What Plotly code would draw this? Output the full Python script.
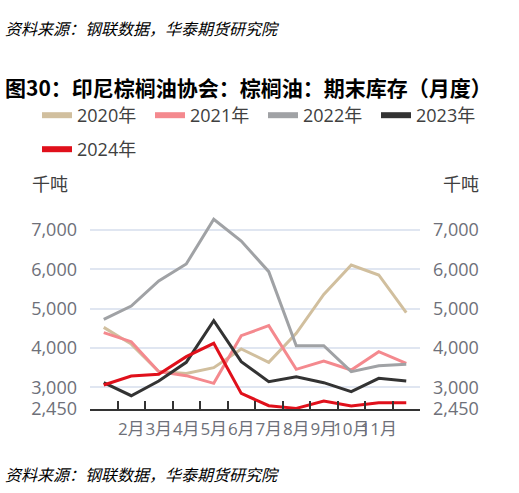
import plotly.graph_objects as go

months = list(range(1, 13))
month_labels = ["1月", "2月", "3月", "4月", "5月", "6月", "7月", "8月", "9月", "10月", "11月", "12月"]
shown_months = months[1:11]

series_names = ["2020年", "2021年", "2022年", "2023年", "2024年"]
v2020 = [4525, 4100, 3400, 3350, 3500, 3975, 3636, 4373, 5364, 6110, 5856, 4898]
v2021 = [4390, 4161, 3398, 3297, 3102, 4314, 4568, 3458, 3669, 3441, 3907, 3610]
v2022 = [4729, 5068, 5703, 6136, 7271, 6720, 5941, 4059, 4059, 3398, 3551, 3585]
v2023 = [3119, 2788, 3161, 3636, 4695, 3653, 3144, 3271, 3119, 2890, 3229, 3161]
v2024 = [3059, 3288, 3331, 3780, 4119, 2847, 2534, 2466, 2653, 2525, 2610, 2610]
values = [v2020, v2021, v2022, v2023, v2024]
colors = ["#D1BF9E", "#F4898E", "#A0A2A5", "#333333", "#E0101B"]

y_ticks = [2450, 3000, 4000, 5000, 6000, 7000, 7330]
y_ticktext = ["2,450", "3,000", "4,000", "5,000", "6,000", "7,000", ""]
y_range = [2450, 7330]

FONT = "Open Sans, Noto Sans CJK SC, sans-serif"
TICKCOL = "#6E7079"
W, H = 519, 493
L, R, T, B = 90, 420, 217, 409

# legend entry positions (px, top-left of each entry)
leg_pos = [(37, 97), (150, 97), (263, 97), (376, 97), (37, 131)]
leg_ids = ["legend", "legend2", "legend3", "legend4", "legend5"]

fig = go.Figure()
for i, (name, vals, col) in enumerate(zip(series_names, values, colors)):
    fig.add_trace(go.Scatter(x=months, y=vals, mode="lines", name=name,
                             line=dict(color=col, width=3), showlegend=False,
                             hoverinfo="skip"))
    fig.add_trace(go.Scatter(x=[None], y=[None], mode="lines", name=name,
                             line=dict(color=col, width=6), showlegend=True,
                             legend=leg_ids[i]))
fig.add_trace(go.Scatter(x=[months[0]], y=[y_range[0]], yaxis="y2", mode="markers",
                         marker=dict(opacity=0), showlegend=False, hoverinfo="skip"))

legends = {}
for lid, (lx, ly) in zip(leg_ids, leg_pos):
    legends[lid] = dict(orientation="h", xref="container", yref="container",
                        x=lx / W, xanchor="left", y=1 - ly / H, yanchor="top",
                        font=dict(size=18, color="#404040"),
                        bgcolor="rgba(0,0,0,0)")

fig.update_layout(
    width=W, height=H,
    margin=dict(l=L, r=W - R, t=T, b=H - B, autoexpand=False),
    paper_bgcolor="white", plot_bgcolor="white",
    font=dict(family=FONT, size=16, color="#333333"),
    **legends,
    xaxis=dict(range=[0.5, 12.5], tickmode="array", tickvals=shown_months,
               ticktext=[month_labels[m - 1] for m in shown_months],
               ticks="", showgrid=False, zeroline=False, tickangle=0,
               ticklabelstandoff=4,
               showline=True, linecolor="#333333", linewidth=2,
               tickfont=dict(size=17, color=TICKCOL),
               minor=dict(tickmode="array", tickvals=[m + 0.5 for m in months[:-1]],
                          ticks="inside", ticklen=8, tickwidth=1.5, tickcolor="#333333",
                          showgrid=False)),
    yaxis=dict(range=y_range, tickmode="array", tickvals=y_ticks, ticktext=y_ticktext,
               showgrid=True, gridcolor="#E0E6F1", gridwidth=1.5, zeroline=False,
               ticks="", ticklabelstandoff=12, tickfont=dict(size=18, color=TICKCOL)),
    yaxis2=dict(range=y_range, tickmode="array", tickvals=y_ticks, ticktext=y_ticktext,
                overlaying="y", side="right", showgrid=False, zeroline=False,
                ticks="", ticklabelstandoff=12, tickfont=dict(size=18, color=TICKCOL)),
)

def ann(text, xp, yp, size, color, italic=False, bold=False):
    if italic:
        text = "<i>" + text + "</i>"
    if bold:
        text = "<b>" + text + "</b>"
    fig.add_annotation(text=text, xref="paper", yref="paper",
                       x=(xp - L) / (R - L), y=(B - yp) / (B - T),
                       xanchor="left", yanchor="middle", showarrow=False,
                       font=dict(size=size, color=color, family="Noto Sans CJK SC"))

ann("资料来源：钢联数据，华泰期货研究院", 3, 28, 16, "#000000", italic=True)
ann("图30：印尼棕榈油协会：棕榈油：期末库存（月度）", 3, 87, 21, "#000000", bold=True)
ann("千吨", 30, 183, 18, "#404040")
ann("千吨", 441, 183, 18, "#404040")
ann("资料来源：钢联数据，华泰期货研究院", 3, 474, 16, "#000000", italic=True)

fig.write_html("out.html", config={"displayModeBar": False},
               post_script="document.body.style.margin='0';document.body.style.padding='0';")
